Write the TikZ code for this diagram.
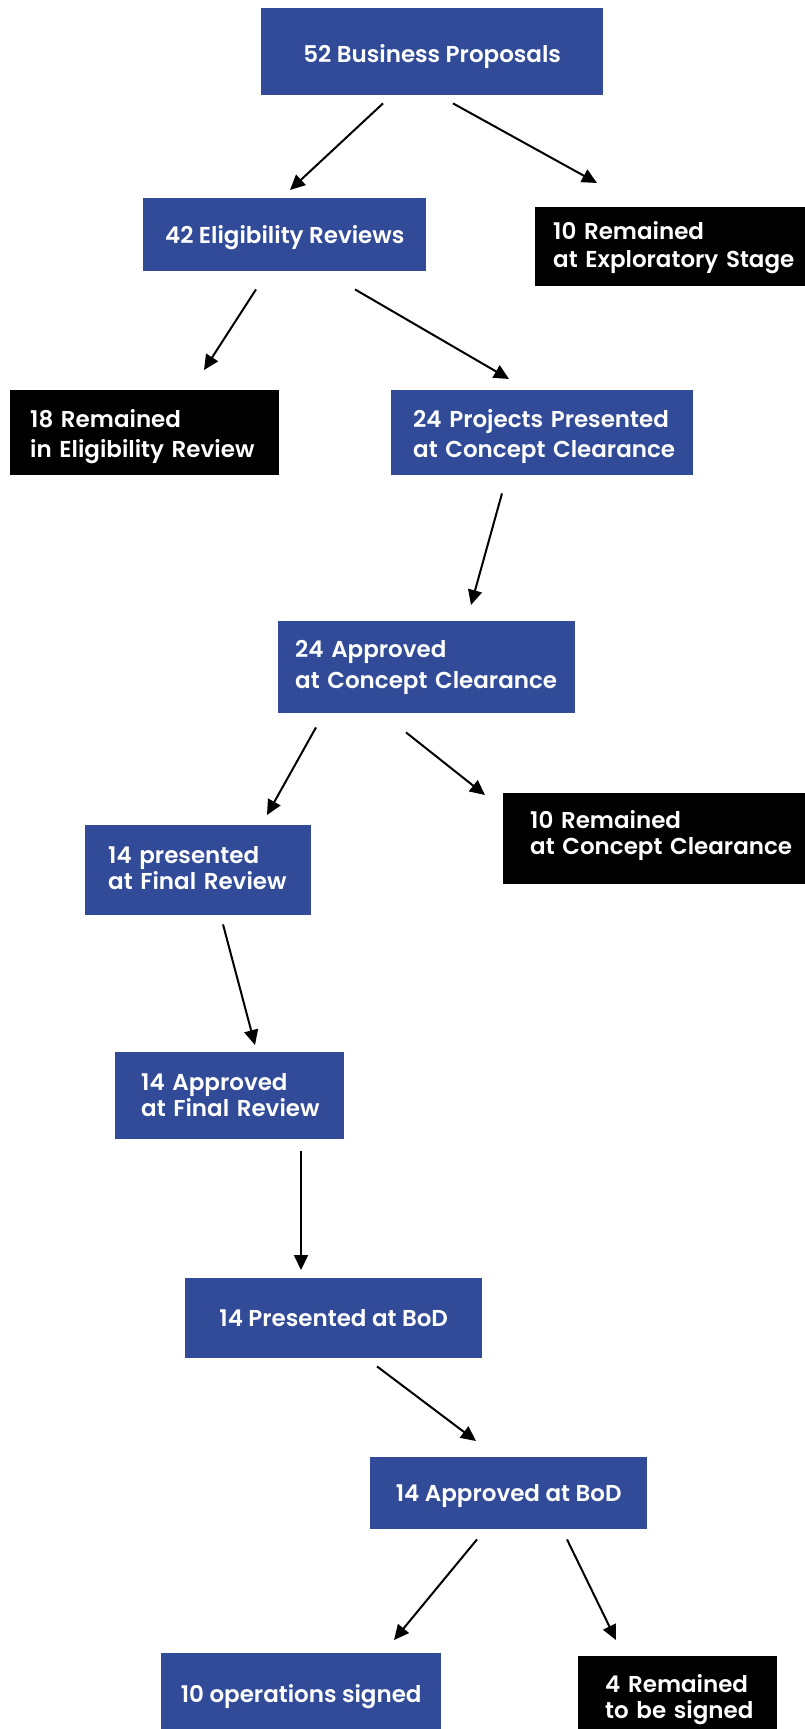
\documentclass[tikz,border=0pt]{standalone}
\usepackage{fontspec}
\setmainfont{Poppins SemiBold}
\usetikzlibrary{arrows.meta}
\definecolor{boxblue}{RGB}{50,75,152}
\newcommand\oneline[1]{\mbox{#1}}
\begin{document}
\begin{tikzpicture}[x=1pt,y=-1pt,
  box/.style={anchor=north west, inner xsep=0pt, inner ysep=0pt, text=white,
    text height=0pt, text depth=0pt, font=\fontsize{23}{26}\selectfont},
  loose/.style={font=\fontsize{23}{30}\selectfont},
  bluebox/.style={box, fill=boxblue},
  blackbox/.style={box, fill=black},
  arr/.style={-{Triangle[length=15pt,width=14pt]}, line width=2pt, draw=black}]
\clip (0,0) rectangle (805,1729);
\fill[white] (0,0) rectangle (805,1729);

% stages of the pipeline (text height/depth place the first baseline)
\node[bluebox, minimum width=342pt, minimum height=87pt, text height=21pt] (b1) at (261,8)
  {52 Business Proposals};
\node[bluebox, minimum width=283pt, minimum height=73pt, text height=17pt] (b2) at (143,198)
  {42 Eligibility Reviews};
\node[blackbox, loose, font=\fontsize{23}{28}\selectfont, minimum width=275pt, minimum height=79pt,
  text width=239pt, align=left, text depth=15pt] (k1) at (535,207)
  {\oneline{10 Remained}\\\oneline{at Exploratory Stage}};
\node[blackbox, loose, minimum width=269pt, minimum height=85pt, text width=229pt, align=left,
  text depth=11pt] (k2) at (10,390)
  {\oneline{18 Remained}\\\oneline{in Eligibility Review}};
\node[bluebox, loose, minimum width=302pt, minimum height=85pt, text width=258pt, align=left,
  text depth=11pt] (b3) at (391,390)
  {\oneline{24 Projects Presented}\\\oneline{at Concept Clearance}};
\node[bluebox, loose, font=\fontsize{23}{31}\selectfont, minimum width=297pt, minimum height=92pt,
  text width=263pt, align=left, text depth=20pt] (b4) at (278,621)
  {\oneline{24 Approved}\\\oneline{at Concept Clearance}};
\node[bluebox, minimum width=226pt, minimum height=90pt, text width=180pt, align=left,
  text depth=14pt] (b5) at (85,825)
  {\oneline{14 presented}\\\oneline{at Final Review}};
\node[blackbox, minimum width=310pt, minimum height=91pt, text width=256pt, align=left,
  text depth=21pt] (k3) at (503,793)
  {\oneline{10 Remained}\\\oneline{at Concept Clearance}};
\node[bluebox, minimum width=229pt, minimum height=87pt, text width=177pt, align=left,
  text depth=11pt] (b6) at (115,1052)
  {\oneline{14 Approved}\\\oneline{at Final Review}};
\node[bluebox, minimum width=297pt, minimum height=80pt, text height=16pt] (b7) at (185,1278)
  {14 Presented at BoD};
\node[bluebox, minimum width=277pt, minimum height=72pt, text height=16pt] (b8) at (370,1457)
  {14 Approved at BoD};
\node[bluebox, minimum width=280pt, minimum height=80pt, text height=18pt] (b9) at (161,1653)
  {10 operations signed};
\node[blackbox, minimum width=199pt, minimum height=82pt, text width=145pt, align=left,
  text depth=10pt] (k4) at (578,1656)
  {\oneline{4 Remained}\\\oneline{to be signed}};

% flow arrows
\draw[arr] ([shift={(122,8)}]b1.south west) -- ([shift={(147,-8)}]b2.north west);
\draw[arr] ([shift={(192,8)}]b1.south west) -- ([shift={(62,-24)}]k1.north west);
\draw[arr] ([shift={(113,18)}]b2.south west) -- ([shift={(194,-20)}]k2.north west);
\draw[arr] ([shift={(212,18)}]b2.south west) -- ([shift={(118,-11)}]b3.north west);
\draw[arr] ([shift={(111,18)}]b3.south west) -- ([shift={(193,-16)}]b4.north west);
\draw[arr] ([shift={(38,14)}]b4.south west) -- ([shift={(182,-10)}]b5.north west);
\draw[arr] ([shift={(128,19)}]b4.south west) -- ([shift={(-18,2)}]k3.north west);
\draw[arr] ([shift={(138,9)}]b5.south west) -- ([shift={(140,-7)}]b6.north west);
\draw[arr] ([shift={(186,12)}]b6.south west) -- ([shift={(116,-8)}]b7.north west);
\draw[arr] ([shift={(192,8)}]b7.south west) -- ([shift={(106,-16)}]b8.north west);
\draw[arr] ([shift={(107,10)}]b8.south west) -- ([shift={(233,-13)}]b9.north west);
\draw[arr] ([shift={(197,10)}]b8.south west) -- ([shift={(38,-16)}]k4.north west);
\end{tikzpicture}
\end{document}
